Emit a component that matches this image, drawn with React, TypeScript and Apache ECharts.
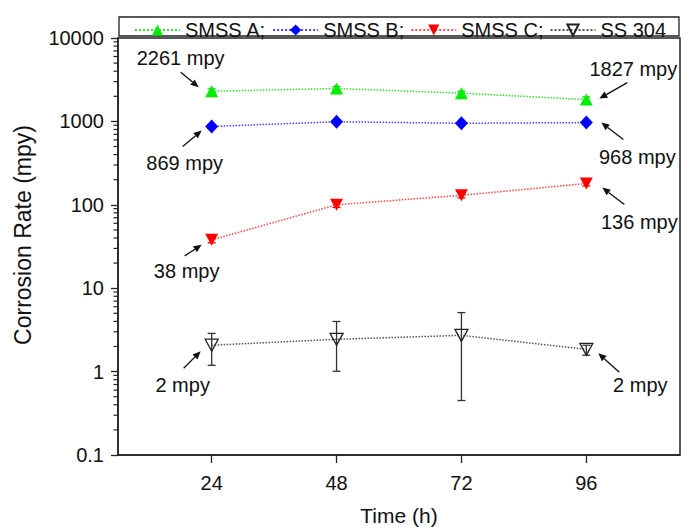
import React, { useEffect, useRef } from "react";
import * as echarts from "echarts";

const times = [24, 48, 72, 96];
const xTickValues = [24, 48, 72, 96];
const yTickValues = [0.1, 1, 10, 100, 1000, 10000];
const yMinorTickValues = [
  0.2, 0.3, 0.4, 0.5, 0.6, 0.7, 0.8, 0.9,
  2, 3, 4, 5, 6, 7, 8, 9,
  20, 30, 40, 50, 60, 70, 80, 90,
  200, 300, 400, 500, 600, 700, 800, 900,
  2000, 3000, 4000, 5000, 6000, 7000, 8000, 9000,
];

const smssA = [2300, 2480, 2180, 1827];
const smssALow = [2050, 2250, 1980, 1640];
const smssAHigh = [2450, 2620, 2300, 1960];

const smssB = [869, 990, 950, 968];
const smssBLow = [820, 940, 900, 920];
const smssBHigh = [910, 1040, 1000, 1010];

const smssC = [38, 100, 130, 180];
const smssCLow = [35, 93, 121, 168];
const smssCHigh = [42, 112, 140, 200];

const ss304 = [2.07, 2.44, 2.72, 1.85];
const ss304Low = [1.19, 1.01, 0.45, 1.57];
const ss304High = [2.87, 3.99, 5.1, 2.07];

const seriesNames = ["SMSS A;", "SMSS B;", "SMSS C;", "SS 304"];

const X_MIN = 6;
const X_MAX = 114;

// annotation: which series/point, label text, pixel offsets of text centre and arrow
const annotations = [
  { s: 0, i: 0, text: "2261 mpy", tx: -31, ty: -33, ax1: -31, ay1: -19, ax2: -13, ay2: -4 },
  { s: 1, i: 0, text: "869 mpy", tx: -27, ty: 37, ax1: -29, ay1: 20, ax2: -10, ay2: 4 },
  { s: 2, i: 0, text: "38 mpy", tx: -25, ty: 31, ax1: -27, ay1: 16, ax2: -10, ay2: 5 },
  { s: 0, i: 3, text: "1827 mpy", tx: 47, ty: -31, ax1: 41, ay1: -17, ax2: 13, ay2: -1 },
  { s: 1, i: 3, text: "968 mpy", tx: 51, ty: 34, ax1: 37, ay1: 17, ax2: 15, ay2: 0 },
  { s: 2, i: 3, text: "136 mpy", tx: 53, ty: 38, ax1: 38, ay1: 21, ax2: 16, ay2: 4 },
  { s: 3, i: 0, text: "2 mpy", tx: -29, ty: 40, ax1: -28, ay1: 23, ax2: -11, ay2: 6 },
  { s: 3, i: 3, text: "2 mpy", tx: 54, ty: 36, ax1: 33, ay1: 23, ax2: 12, ay2: 4 },
];

const FONT = "'Liberation Sans', Arial, Helvetica, sans-serif";

const seriesValues = [smssA, smssB, smssC, ss304];

function errorBarSeries(lows: number[], highs: number[], color: string) {
  return {
    type: "custom",
    silent: true,
    z: 1,
    data: times.map((t, i) => [t, lows[i], highs[i]]),
    encode: { x: 0, y: [1, 2] },
    renderItem: (params: any, api: any) => {
      const x = api.value(0);
      const hi = api.coord([x, api.value(2)]);
      const lo = api.coord([x, api.value(1)]);
      const w = 4;
      const st = { stroke: color, lineWidth: 1.3 };
      return {
        type: "group",
        children: [
          { type: "line", shape: { x1: hi[0], y1: hi[1], x2: lo[0], y2: lo[1] }, style: st },
          { type: "line", shape: { x1: hi[0] - w, y1: hi[1], x2: hi[0] + w, y2: hi[1] }, style: st },
          { type: "line", shape: { x1: lo[0] - w, y1: lo[1], x2: lo[0] + w, y2: lo[1] }, style: st },
        ],
      };
    },
  };
}

const minorTickSeries = {
  type: "custom",
  silent: true,
  clip: false,
  z: 5,
  data: yMinorTickValues.map((v) => [X_MIN, v]),
  encode: { x: 0, y: 1 },
  renderItem: (params: any, api: any) => {
    const p = api.coord([api.value(0), api.value(1)]);
    return {
      type: "line",
      shape: { x1: p[0] - 4.5, y1: p[1], x2: p[0], y2: p[1] },
      style: { stroke: "#222", lineWidth: 1.2 },
    };
  },
};

function arrow(x1: number, y1: number, x2: number, y2: number) {
  const dx = x2 - x1;
  const dy = y2 - y1;
  const len = Math.hypot(dx, dy);
  const ux = dx / len;
  const uy = dy / len;
  const hl = 8;
  const hw = 3.5;
  const bx = x2 - ux * hl;
  const by = y2 - uy * hl;
  return [
    {
      type: "line",
      silent: true,
      shape: { x1, y1, x2: bx, y2: by },
      style: { stroke: "#111", lineWidth: 1.3 },
    },
    {
      type: "polygon",
      silent: true,
      shape: {
        points: [
          [x2, y2],
          [bx - uy * hw, by + ux * hw],
          [bx + uy * hw, by - ux * hw],
        ],
      },
      style: { fill: "#111" },
    },
  ];
}

export default function App() {
  const ref = useRef<HTMLDivElement>(null);

  useEffect(() => {
    if (!ref.current) return;
    document.body.style.margin = "0";
    const chart = echarts.init(ref.current, undefined, { renderer: "svg" });

    const baseGraphic: any[] = [
      {
        type: "rect",
        silent: true,
        shape: { x: 119, y: 17, width: 560, height: 19 },
        style: { fill: "none", stroke: "#222", lineWidth: 1.3 },
      },
      {
        type: "text",
        silent: true,
        x: 23,
        y: 235,
        rotation: Math.PI / 2,
        style: {
          text: "Corrosion Rate (mpy)",
          font: `23px ${FONT}`,
          fill: "#111",
          align: "center",
          verticalAlign: "middle",
        },
      },
    ];

    const option: any = {
      animation: false,
      backgroundColor: "#fff",
      textStyle: { fontFamily: FONT },
      grid: {
        left: 118,
        right: 12,
        top: 38,
        bottom: 74,
        show: true,
        borderColor: "#222",
        borderWidth: 1.5,
        containLabel: false,
      },
      legend: {
        data: seriesNames,
        left: 134,
        top: 20,
        padding: 0,
        itemWidth: 45,
        itemHeight: 14,
        itemGap: 6,
        textStyle: { fontSize: 20, color: "#111", fontFamily: FONT },
        selectedMode: false,
      },
      xAxis: {
        type: "value",
        min: X_MIN,
        max: X_MAX,
        name: "Time (h)",
        nameLocation: "middle",
        nameGap: 50,
        nameTextStyle: { fontSize: 21, color: "#111", fontFamily: FONT },
        axisLine: { show: true, lineStyle: { color: "#222", width: 1.5 } },
        axisTick: {
          show: true,
          inside: false,
          length: 8,
          customValues: xTickValues,
          lineStyle: { color: "#222", width: 1.3 },
        },
        axisLabel: {
          customValues: xTickValues,
          fontSize: 20,
          color: "#111",
          margin: 18,
          fontFamily: FONT,
        },
        splitLine: { show: false },
      },
      yAxis: {
        type: "log",
        logBase: 10,
        min: 0.1,
        max: 10000,
        axisLine: { show: true, lineStyle: { color: "#222", width: 1.5 } },
        axisTick: {
          show: true,
          inside: false,
          length: 7,
          customValues: yTickValues,
          lineStyle: { color: "#222", width: 1.3 },
        },
        axisLabel: {
          customValues: yTickValues,
          fontSize: 20,
          color: "#111",
          margin: 14,
          fontFamily: FONT,
          formatter: (v: number) => (v < 1 ? String(Number(v.toPrecision(2))) : String(Math.round(v))),
        },
        splitLine: { show: false },
      },
      series: [
        {
          name: "SMSS A;",
          type: "line",
          z: 3,
          data: times.map((t, i) => [t, smssA[i]]),
          symbol: "triangle",
          symbolSize: [13, 12],
          itemStyle: { color: "#00ee00" },
          lineStyle: { color: "#33dd33", width: 1.5, type: "dotted" },
        },
        {
          name: "SMSS B;",
          type: "line",
          z: 3,
          data: times.map((t, i) => [t, smssB[i]]),
          symbol: "diamond",
          symbolSize: [13, 14],
          itemStyle: { color: "#0000ff" },
          lineStyle: { color: "#4444ff", width: 1.5, type: "dotted" },
        },
        {
          name: "SMSS C;",
          type: "line",
          z: 3,
          data: times.map((t, i) => [t, smssC[i]]),
          symbol: "triangle",
          symbolRotate: 180,
          symbolSize: [13, 12],
          itemStyle: { color: "#ff0000" },
          lineStyle: { color: "#ff4444", width: 1.5, type: "dotted" },
        },
        {
          name: "SS 304",
          type: "line",
          z: 3,
          data: times.map((t, i) => [t, ss304[i]]),
          symbol: "triangle",
          symbolRotate: 180,
          symbolSize: [13, 12],
          itemStyle: { color: "rgba(255,255,255,0)", borderColor: "#222", borderWidth: 1.3 },
          lineStyle: { color: "#555", width: 1.5, type: "dotted" },
        },
        errorBarSeries(smssALow, smssAHigh, "#00cc00"),
        errorBarSeries(smssBLow, smssBHigh, "#0000ee"),
        errorBarSeries(smssCLow, smssCHigh, "#ee0000"),
        errorBarSeries(ss304Low, ss304High, "#333"),
        minorTickSeries,
      ],
      graphic: baseGraphic,
    };

    chart.setOption(option);

    const annGraphic: any[] = [];
    annotations.forEach((a) => {
      const p = chart.convertToPixel({ xAxisIndex: 0, yAxisIndex: 0 }, [
        times[a.i],
        seriesValues[a.s][a.i],
      ]) as number[];
      annGraphic.push({
        type: "text",
        silent: true,
        x: p[0] + a.tx,
        y: p[1] + a.ty,
        style: {
          text: a.text,
          font: `20px ${FONT}`,
          fill: "#111",
          align: "center",
          verticalAlign: "middle",
        },
      });
      arrow(p[0] + a.ax1, p[1] + a.ay1, p[0] + a.ax2, p[1] + a.ay2).forEach((g) => annGraphic.push(g));
    });

    chart.setOption({ graphic: baseGraphic.concat(annGraphic) });

    return () => chart.dispose();
  }, []);

  return <div ref={ref} style={{ width: 692, height: 531 }} />;
}
